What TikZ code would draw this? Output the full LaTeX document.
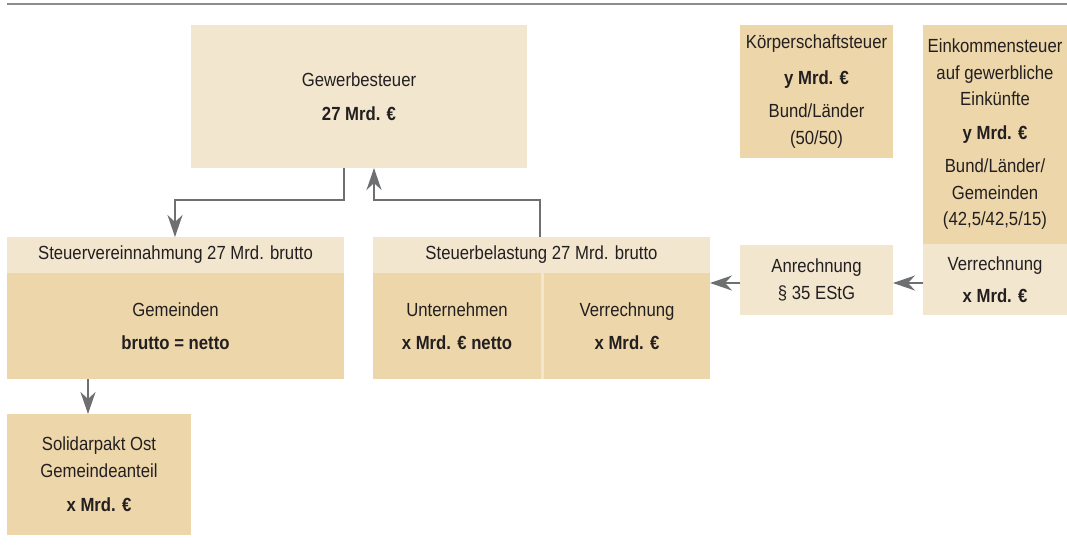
\documentclass[tikz,border=0pt]{standalone}
\usepackage{fontspec}
\setmainfont{Liberation Sans}[FakeStretch=0.88]
\usetikzlibrary{arrows.meta,calc}
\definecolor{lightbeige}{HTML}{F3E6CF}
\definecolor{darkbeige}{HTML}{ECD6AA}
\definecolor{arrowgray}{HTML}{6E6F71}
\definecolor{rulegray}{HTML}{8C8C8C}
\definecolor{txt}{HTML}{231F20}
\tikzset{
  box/.style={anchor=north west, inner sep=0pt, outer sep=0pt, align=center,
    text=txt, font=\fontsize{19}{26.5}\selectfont},
  lightbox/.style={box, fill=lightbeige},
  darkbox/.style={box, fill=darkbeige},
  arr/.style={draw=arrowgray, line width=1.8pt,
    -{Stealth[length=22pt,width=15pt,inset=7pt]}},
}
\newcommand{\bx}[1]{\textbf{#1}}
\begin{document}
\begin{tikzpicture}[x=1pt,y=-1pt]
\useasboundingbox (0,0) rectangle (1067,547);
\fill[white] (0,0) rectangle (1067,547);
\draw[rulegray, line width=2pt] (7,3.5) -- (1067,3.5);

% Gewerbesteuer
\node[lightbox, minimum width=336pt, minimum height=143pt] (gew) at (191,25)
  {Gewerbesteuer\\[8pt]\bx{27 Mrd. €}};

% Koerperschaftsteuer
\node[darkbox, minimum width=153pt, minimum height=133pt] (kst) at (740,25)
  {Körperschaftsteuer\\[9pt]\bx{y Mrd. €}\\[7pt]Bund/Länder\\(50/50)};

% Einkommensteuer
\node[darkbox, minimum width=144pt, minimum height=219pt] (est) at (923,25)
  {Einkommensteuer\\auf gewerbliche\\Einkünfte\\[7pt]\bx{y Mrd. €}\\[7pt]Bund/Länder/\\Gemeinden\\(42,5/42,5/15)};
\node[lightbox, minimum width=144pt, minimum height=71pt] (ev) at (923,244)
  {Verrechnung\\[6pt]\bx{x Mrd. €}};

% Anrechnung
\node[lightbox, minimum width=153pt, minimum height=70pt] (anr) at (740,245)
  {Anrechnung\\§ 35 EStG};

% Steuervereinnahmung
\node[lightbox, minimum width=337pt, minimum height=36pt] (svh) at (7,237)
  {Steuervereinnahmung 27 Mrd. brutto};
\node[darkbox, minimum width=337pt, minimum height=106pt] (svb) at (7,273)
  {Gemeinden\\[7pt]\bx{brutto = netto}};

% Steuerbelastung
\node[lightbox, minimum width=337pt, minimum height=142pt] (sbh) at (373,237) {};
\node[anchor=center, text=txt, font=\fontsize{19}{26.5}\selectfont] at ($(sbh.north)+(0,18)$)
  {Steuerbelastung 27 Mrd. brutto};
\node[darkbox, minimum width=168pt, minimum height=106pt] (sbu) at (373,273)
  {Unternehmen\\[7pt]\bx{x Mrd. € netto}};
\node[darkbox, minimum width=166pt, minimum height=106pt] (sbv) at (544,273)
  {Verrechnung\\[7pt]\bx{x Mrd. €}};

% Solidarpakt
\node[darkbox, minimum width=184pt, minimum height=121pt] (sol) at (7,414)
  {Solidarpakt Ost\\Gemeindeanteil\\[8pt]\bx{x Mrd. €}};

% connectors
\coordinate (b1) at (344,200);
\coordinate (b2) at (175,200);
\draw[arr] (gew.south -| b1) -- (b1) -- (b2) -- (svh.north -| b2);
\coordinate (c1) at (540,200);
\coordinate (c2) at (374,200);
\draw[arr] (sbh.north -| c1) -- (c1) -- (c2) -- (gew.south -| c2);
\coordinate (d1) at (88,379);
\draw[arr] (svb.south -| d1) -- (sol.north -| d1);
\coordinate (e1) at (923,283);
\draw[arr] (ev.west |- e1) -- (anr.east |- e1);
\draw[arr] (anr.west |- e1) -- (sbv.east |- e1);
\end{tikzpicture}
\end{document}
